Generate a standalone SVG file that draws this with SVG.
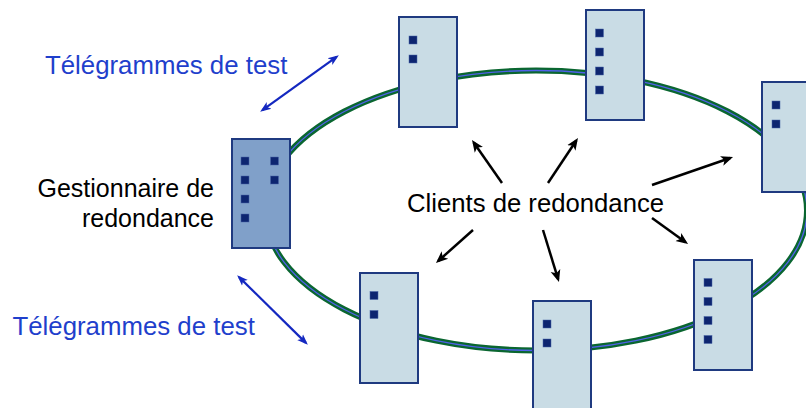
<svg xmlns="http://www.w3.org/2000/svg" width="806" height="408" viewBox="0 0 806 408">
<style>
.client{fill:#c9dce5;stroke:#1f3a80;stroke-width:2}
.mgr{fill:#80a0c9;stroke:#1f3a80;stroke-width:2}
.led{fill:#0d2570;stroke:#4a66a8;stroke-width:0.5}
.lbl{font-family:"Liberation Sans",Arial,sans-serif;font-size:25.7px;fill:#000}
.blue{font-family:"Liberation Sans",Arial,sans-serif;font-size:25.8px;fill:#1f3fcc}
.blk{stroke:#000;stroke-width:2.5;fill:none;marker-end:url(#ah)}
.bl{stroke:#1428c0;stroke-width:2.2;fill:none;marker-start:url(#bh);marker-end:url(#bh)}
</style>
<defs>
<marker id="ah" markerUnits="userSpaceOnUse" viewBox="0 0 12 12" markerWidth="12" markerHeight="12" refX="9" refY="6" orient="auto">
<path d="M0,1 L12,6 L0,11 L3,6 z" fill="#000"/>
</marker>
<marker id="bh" markerUnits="userSpaceOnUse" viewBox="0 0 12 12" markerWidth="11" markerHeight="11" refX="9" refY="6" orient="auto-start-reverse">
<path d="M0,1.5 L12,6 L0,10.5 L3,6 z" fill="#1428c0"/>
</marker>
</defs>
<g id="ring">
<ellipse cx="536" cy="210.5" rx="271" ry="140" fill="none" stroke="#0a6630" stroke-width="6"/>
<ellipse cx="536" cy="210.5" rx="271" ry="140" fill="none" stroke="#5060e8" stroke-width="1.3"/>
</g>
<g id="manager">
<rect class="mgr" x="232" y="139" width="58" height="109"/>
<rect class="led" x="241" y="157" width="8" height="8"/>
<rect class="led" x="241" y="176" width="8" height="8"/>
<rect class="led" x="241" y="195" width="8" height="8"/>
<rect class="led" x="241" y="214" width="8" height="8"/>
<rect class="led" x="270.5" y="157" width="8" height="8"/>
<rect class="led" x="270.5" y="176" width="8" height="8"/>
</g>
<g id="client1">
<rect class="client" x="399" y="17" width="58" height="110"/>
<rect class="led" x="409" y="36" width="8" height="8"/>
<rect class="led" x="409" y="55" width="8" height="8"/>
</g>
<g id="client2">
<rect class="client" x="586" y="10" width="58" height="110"/>
<rect class="led" x="595.5" y="29" width="8" height="8"/>
<rect class="led" x="595.5" y="48" width="8" height="8"/>
<rect class="led" x="595.5" y="67" width="8" height="8"/>
<rect class="led" x="595.5" y="86" width="8" height="8"/>
</g>
<g id="client3">
<rect class="client" x="762" y="82" width="58" height="110"/>
<rect class="led" x="772" y="101" width="8" height="8"/>
<rect class="led" x="772" y="120" width="8" height="8"/>
</g>
<g id="client4">
<rect class="client" x="694" y="260" width="58" height="110"/>
<rect class="led" x="704" y="278.5" width="8" height="8"/>
<rect class="led" x="704" y="297.5" width="8" height="8"/>
<rect class="led" x="704" y="316.5" width="8" height="8"/>
<rect class="led" x="704" y="335.5" width="8" height="8"/>
</g>
<g id="client5">
<rect class="client" x="360" y="273" width="58" height="110"/>
<rect class="led" x="370" y="291.5" width="8" height="8"/>
<rect class="led" x="370" y="310.5" width="8" height="8"/>
</g>
<g id="client6">
<rect class="client" x="533" y="301" width="58" height="110"/>
<rect class="led" x="543" y="320" width="8" height="8"/>
<rect class="led" x="543" y="339" width="8" height="8"/>
</g>
<g id="connectors">
<line class="blk" x1="502" y1="183" x2="473.7" y2="142.5"/>
<line class="blk" x1="548" y1="183" x2="576.3" y2="140.5"/>
<line class="blk" x1="652" y1="185" x2="730.2" y2="158"/>
<line class="blk" x1="652" y1="218" x2="685.6" y2="242.2"/>
<line class="blk" x1="473" y1="230" x2="438.2" y2="261"/>
<line class="blk" x1="543" y1="230" x2="558.1" y2="279.1"/>
<line class="bl" x1="262.4" y1="110.2" x2="336.6" y2="56.8"/>
<line class="bl" x1="239.1" y1="277.1" x2="305.9" y2="342.9"/>
</g>
<g id="labels">
<text class="lbl" x="407" y="211.5">Clients de redondance</text>
<text class="lbl" x="214" y="196.5" text-anchor="end" style="font-size:25px">Gestionnaire de</text>
<text class="lbl" x="214" y="226.5" text-anchor="end" style="font-size:25px">redondance</text>
<text class="blue" x="45" y="73.5">Télégrammes de test</text>
<text class="blue" x="12.5" y="335">Télégrammes de test</text>
</g>
</svg>
